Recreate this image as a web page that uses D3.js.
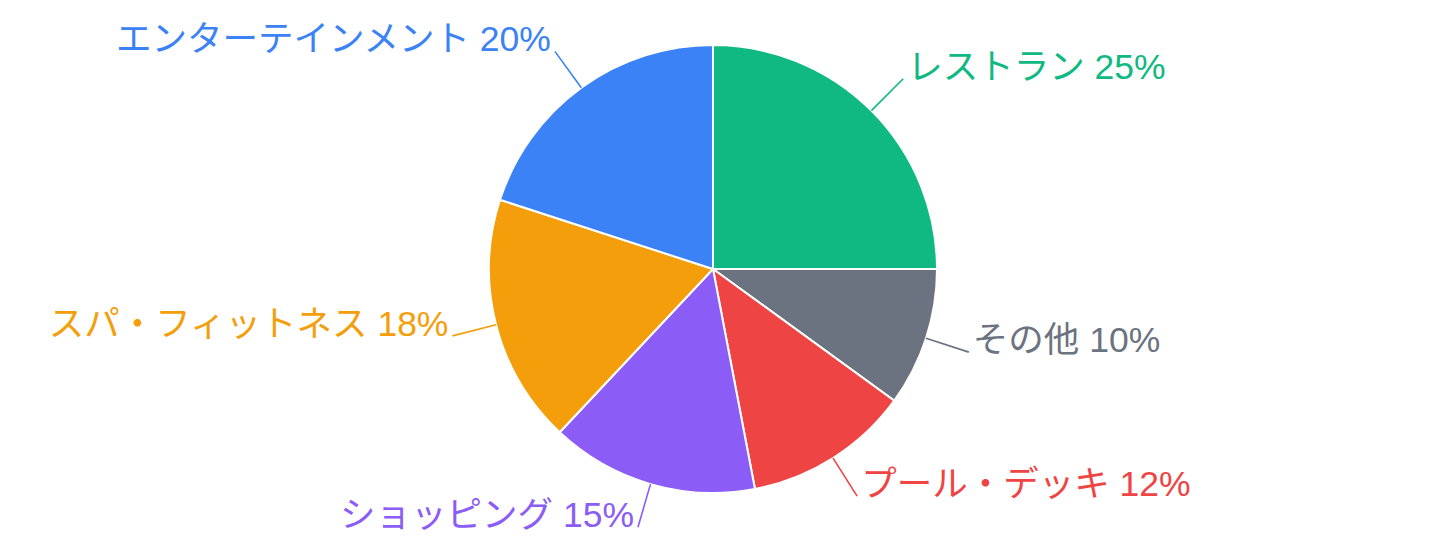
<!DOCTYPE html>
<html><head><meta charset="utf-8">
<script src="https://cdn.jsdelivr.net/npm/d3@7/dist/d3.min.js"></script>
<style>
html,body{margin:0;padding:0;background:#fff;}
svg{display:block;}
text{font-family:"Liberation Sans","Noto Sans CJK JP",sans-serif;}
</style></head>
<body>
<svg id="chart" width="1438" height="554"></svg>
<script>
const categories = ["レストラン","その他","プール・デッキ","ショッピング","スパ・フィットネス","エンターテインメント"];
const values = [25,10,12,15,18,20];
const colors = ["#10b981","#6b7280","#ef4444","#8b5cf6","#f59e0b","#3b82f6"];

const W = 1438, H = 554;
const cx = 713, cy = 269, R = 224, LR = 269;
const svg = d3.select("#chart");
const g = svg.append("g").attr("transform", `translate(${cx},${cy})`);

const data = categories.map((c,i)=>({name:c, value:values[i], color:colors[i]}));
const pie = d3.pie().sort(null).value(d=>d.value);
const arcs = pie(data);
const arc = d3.arc().innerRadius(0).outerRadius(R);
const total = d3.sum(values);

g.selectAll("path.slice").data(arcs).join("path")
  .attr("class","slice")
  .attr("d",arc)
  .attr("fill",d=>d.data.color)
  .attr("stroke","#fff").attr("stroke-width",2);

const pt = (a,r)=>[Math.sin(a)*r, -Math.cos(a)*r];
arcs.forEach(d=>{
  const m = (d.startAngle+d.endAngle)/2;
  const p0 = pt(m,R), p1 = pt(m,LR);
  g.append("line")
    .attr("x1",p0[0]).attr("y1",p0[1]).attr("x2",p1[0]).attr("y2",p1[1])
    .attr("stroke",d.data.color).attr("stroke-width",1.6);
  const right = p1[0] >= 0;
  g.append("text")
    .attr("x", p1[0] + (right?4:-4))
    .attr("y", p1[1])
    .attr("text-anchor", right?"start":"end")
    .attr("fill", d.data.color)
    .attr("font-size", 35.5)
    .text(`${d.data.name} ${Math.round(d.data.value/total*100)}%`);
});
</script>
</body></html>
